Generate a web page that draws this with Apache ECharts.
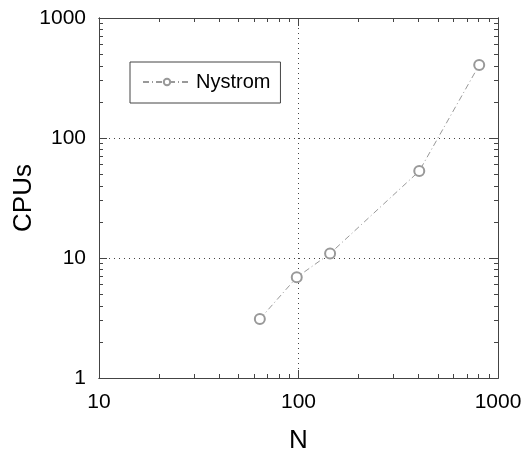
<!DOCTYPE html>
<html>
<head>
    <meta charset="utf-8"/>
    <title>CPUs vs N</title>
    <script src="https://cdn.jsdelivr.net/npm/echarts@6/dist/echarts.min.js"></script>
    <style>
        html, body { margin: 0; padding: 0; background: #fff; }
        #main { width: 529px; height: 451px; }
    </style>
</head>
<body>
<div id="main"></div>
<script>
    // data
    let nValues = [64, 98, 144, 403, 805];
    let cpuValues = [3.1, 6.9, 10.9, 53, 406];
    let xMajorTicks = [10, 100, 1000];
    let yMajorTicks = [1, 10, 100, 1000];
    let xMinorTicks = [20, 30, 40, 50, 60, 70, 80, 90, 200, 300, 400, 500, 600, 700, 800, 900];
    let yMinorTicks = [2, 3, 4, 5, 6, 7, 8, 9, 20, 30, 40, 50, 60, 70, 80, 90, 200, 300, 400, 500, 600, 700, 800, 900];

    let seriesData = [];
    for (let i = 0; i < nValues.length; i++) {
        seriesData.push([nValues[i], cpuValues[i]]);
    }

    let font = 'Liberation Sans, Arial, sans-serif';
    let lineCol = '#444';

    function plain(v) {
        return String(Math.round(v));
    }

    function xAxis(pos, ticks, len, withLabel, withSplit) {
        return {
            type: 'log', logBase: 10, min: 10, max: 1000, position: pos,
            name: withLabel ? 'N' : '', nameLocation: 'middle', nameGap: 50, nameMoveOverlap: false,
            nameTextStyle: {fontFamily: font, fontSize: 26, color: '#000'},
            axisLine: {show: true, onZero: false, lineStyle: {color: lineCol, width: 1}},
            axisTick: {show: true, inside: true, length: len, customValues: ticks, lineStyle: {color: lineCol}},
            axisLabel: {show: withLabel, customValues: xMajorTicks, margin: 14, formatter: plain,
                fontFamily: font, fontSize: 21, color: '#000'},
            splitLine: {show: withSplit, lineStyle: {type: [1, 4], color: '#444'}},
            minorTick: {show: false}
        };
    }

    function yAxis(pos, ticks, len, withLabel, withSplit) {
        return {
            type: 'log', logBase: 10, min: 1, max: 1000, position: pos,
            name: withLabel ? 'CPUs' : '', nameLocation: 'middle', nameGap: 62, nameMoveOverlap: false,
            nameTextStyle: {fontFamily: font, fontSize: 26, color: '#000'},
            axisLine: {show: true, onZero: false, lineStyle: {color: lineCol, width: 1}},
            axisTick: {show: true, inside: true, length: len, customValues: ticks, lineStyle: {color: lineCol}},
            axisLabel: {show: withLabel, customValues: yMajorTicks, margin: 13, formatter: plain,
                fontFamily: font, fontSize: 21, color: '#000'},
            splitLine: {show: withSplit, lineStyle: {type: [1, 4], color: '#444'}},
            minorTick: {show: false}
        };
    }

    let myChart = echarts.init(document.getElementById('main'));
    let option = {
        animation: false,
        backgroundColor: '#fff',
        grid: {left: 99, right: 31, top: 18, bottom: 73, containLabel: false, outerBoundsMode: 'none'},
        legend: {
            left: 130, top: 62,
            padding: [10, 10, 11, 12],
            borderColor: '#444', borderWidth: 1,
            itemWidth: 48, itemHeight: 8, itemGap: 8,
            textStyle: {fontFamily: font, fontSize: 20, color: '#000'},
            data: ['Nystrom']
        },
        xAxis: [
            xAxis('bottom', xMajorTicks, 8, true, true),
            xAxis('bottom', xMinorTicks, 4, false, false),
            xAxis('top', xMajorTicks, 8, false, false),
            xAxis('top', xMinorTicks, 4, false, false)
        ],
        yAxis: [
            yAxis('left', yMajorTicks, 8, true, true),
            yAxis('left', yMinorTicks, 4, false, false),
            yAxis('right', yMajorTicks, 8, false, false),
            yAxis('right', yMinorTicks, 4, false, false)
        ],
        series: [
            {
                name: 'Nystrom',
                type: 'line',
                xAxisIndex: 0, yAxisIndex: 0,
                data: seriesData,
                symbol: 'emptyCircle',
                symbolSize: 10,
                itemStyle: {color: '#999', borderWidth: 1},
                lineStyle: {color: '#999', width: 1, type: [6, 3, 1, 3]}
            }
        ]
    };
    myChart.setOption(option);
</script>
</body>
</html>
